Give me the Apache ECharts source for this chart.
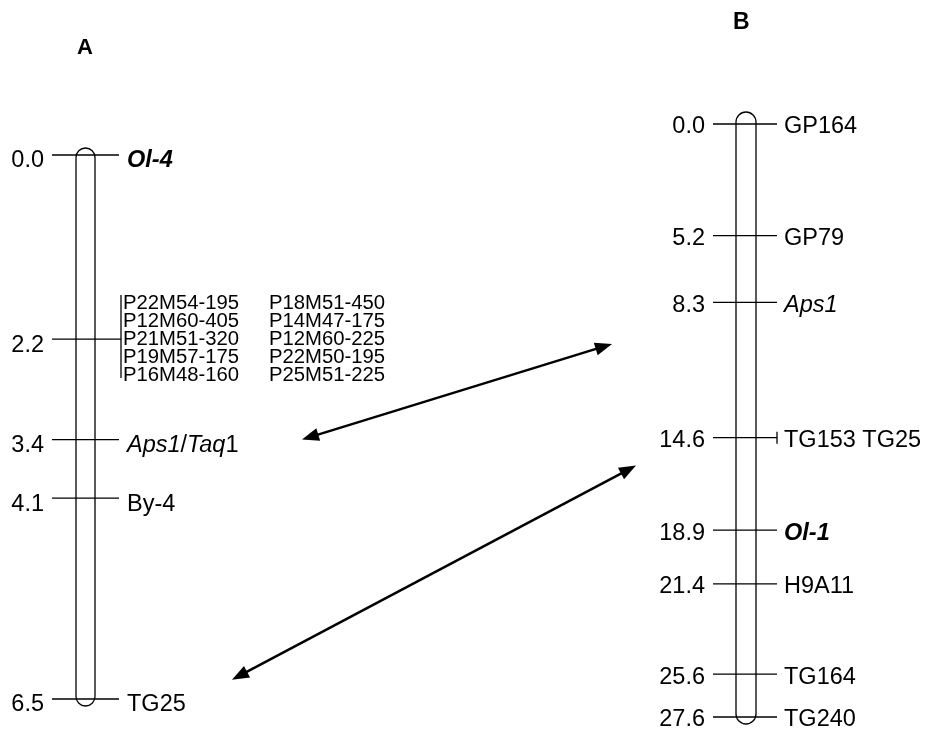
<!DOCTYPE html>
<html><head><meta charset="utf-8">
<script src="https://cdn.jsdelivr.net/npm/echarts@6/dist/echarts.min.js"></script>
<style>html,body{margin:0;padding:0;background:#fff}#c{width:925px;height:731px}</style>
</head><body><div id="c"></div>
<script>
// ---- data ----
const chrA_title = 'A';
const chrA_pos = [0.0, 2.2, 3.4, 4.1, 6.5];
const chrA_markers = ['Ol-4', '', 'Aps1/Taq1', 'By-4', 'TG25'];
const chrA_cluster_pos = 2.2;
const chrA_cluster_col1 = ['P22M54-195', 'P12M60-405', 'P21M51-320', 'P19M57-175', 'P16M48-160'];
const chrA_cluster_col2 = ['P18M51-450', 'P14M47-175', 'P12M60-225', 'P22M50-195', 'P25M51-225'];
const chrB_title = 'B';
const chrB_pos = [0.0, 5.2, 8.3, 14.6, 18.9, 21.4, 25.6, 27.6];
const chrB_markers = ['GP164', 'GP79', 'Aps1', 'TG153 TG25', 'Ol-1', 'H9A11', 'TG164', 'TG240'];
const chrB_grouped = [false, false, false, true, false, false, false, false];
// arrows: cM on chromosome A  <->  cM on chromosome B
const arrow_fromA = [3.4, 6.27];
const arrow_toB = [10.24, 15.9];

// ---- style / layout ----
const FONT = '"Liberation Sans", Arial, Helvetica, sans-serif';
const FS = 23.5;
const rich = {
  n: {fontSize: FS, fontFamily: FONT, color: '#000'},
  i: {fontSize: FS, fontFamily: FONT, fontStyle: 'italic', color: '#000'},
  bi: {fontSize: FS, fontFamily: FONT, fontStyle: 'italic', fontWeight: 'bold', color: '#000'}
};
function fmt(name) {
  if (name === 'Aps1/Taq1') return '{i|Aps1}{n|/}{i|Taq}{n|1}';
  if (name === 'Ol-4' || name === 'Ol-1') return '{bi|' + name + '}';
  if (name === 'Aps1') return '{i|' + name + '}';
  return '{n|' + name + '}';
}
const cfgA = {cx: 85.5, w: 19, extTop: 7, extBot: 7, tickL: 52, tickR: 119, numX: 44, nameX: 127, dy: 6, bracketX: 121};
const cfgB = {cx: 746, w: 20, extTop: 12, extBot: 7, tickL: 713, tickR: 777, numX: 705, nameX: 784, dy: 3};

function capsuleSeries(idx, min, max, cfg) {
  return {
    type: 'custom', xAxisIndex: idx, yAxisIndex: idx, silent: true, z: 1,
    data: [[cfg.cx, min, max]],
    renderItem(params, api) {
      const t = api.coord([api.value(0), api.value(1)]);
      const b = api.coord([api.value(0), api.value(2)]);
      const top = t[1] - cfg.extTop, bot = b[1] + cfg.extBot;
      return {type: 'rect', shape: {x: t[0] - cfg.w / 2, y: top, width: cfg.w, height: bot - top, r: cfg.w / 2},
        style: {fill: '#fff', stroke: '#000', lineWidth: 1.3}};
    }
  };
}
function markerSeries(idx, pos, names, cfg, grouped) {
  return {
    type: 'custom', xAxisIndex: idx, yAxisIndex: idx, silent: true, z: 2,
    data: pos.map((p, i) => [cfg.cx, p, i]),
    renderItem(params, api) {
      const i = api.value(2);
      const y = api.coord([api.value(0), api.value(1)])[1];
      const ch = [];
      const isCluster = (idx === 0 && pos[i] === chrA_cluster_pos && !names[i]);
      const right = isCluster ? cfg.bracketX : cfg.tickR;
      ch.push({type: 'line', shape: {x1: cfg.tickL, y1: y, x2: right, y2: y}, style: {stroke: '#000', lineWidth: 1.3}});
      ch.push({type: 'text', style: {text: pos[i].toFixed(1), x: cfg.numX, y: y + cfg.dy, align: 'right', verticalAlign: 'middle',
        font: FS + 'px ' + FONT, fill: '#000'}});
      if (grouped && grouped[i]) {
        ch.push({type: 'line', shape: {x1: cfg.tickR, y1: y - 6, x2: cfg.tickR, y2: y + 6}, style: {stroke: '#000', lineWidth: 1.3}});
      }
      if (isCluster) {
        ch.push({type: 'line', shape: {x1: cfg.bracketX, y1: y - 44, x2: cfg.bracketX, y2: y + 39}, style: {stroke: '#000', lineWidth: 1.3}});
        chrA_cluster_col1.forEach((s, k) => {
          ch.push({type: 'text', style: {text: s, x: 123, y: y + (k - 2) * 18, align: 'left', verticalAlign: 'middle', font: '20.3px ' + FONT, fill: '#000'}});
        });
        chrA_cluster_col2.forEach((s, k) => {
          ch.push({type: 'text', style: {text: s, x: 269, y: y + (k - 2) * 18, align: 'left', verticalAlign: 'middle', font: '20.3px ' + FONT, fill: '#000'}});
        });
      } else if (names[i]) {
        ch.push({type: 'text', style: {text: fmt(names[i]), rich: rich, x: cfg.nameX, y: y + cfg.dy, align: 'left', verticalAlign: 'middle'}});
      }
      return {type: 'group', children: ch};
    }
  };
}

const chart = echarts.init(document.getElementById('c'), null, {renderer: 'canvas'});
const option = {
  backgroundColor: '#fff',
  animation: false,
  grid: [
    {left: 0, top: 155, width: 925, height: 544},
    {left: 0, top: 124, width: 925, height: 593}
  ],
  xAxis: [
    {type: 'value', gridIndex: 0, min: 0, max: 925, show: false},
    {type: 'value', gridIndex: 1, min: 0, max: 925, show: false}
  ],
  yAxis: [
    {type: 'value', gridIndex: 0, min: 0, max: 6.5, inverse: true, show: false},
    {type: 'value', gridIndex: 1, min: 0, max: 27.6, inverse: true, show: false}
  ],
  series: [
    capsuleSeries(0, chrA_pos[0], chrA_pos[chrA_pos.length - 1], cfgA),
    markerSeries(0, chrA_pos, chrA_markers, cfgA, null),
    capsuleSeries(1, chrB_pos[0], chrB_pos[chrB_pos.length - 1], cfgB),
    markerSeries(1, chrB_pos, chrB_markers, cfgB, chrB_grouped)
  ]
};
chart.setOption(option);

// arrows and titles, placed via the library's coordinate conversion
const arrowLeftX = [302, 232];
const arrowRightX = [612, 636];
const gfx = [];
function arrowHead(tip, from, len, hw) {
  const dx = tip[0] - from[0], dy = tip[1] - from[1];
  const L = Math.sqrt(dx * dx + dy * dy), ux = dx / L, uy = dy / L;
  const bx = tip[0] - ux * len, by = tip[1] - uy * len;
  return [[tip[0], tip[1]], [bx - uy * hw, by + ux * hw], [bx + uy * hw, by - ux * hw]];
}
arrow_fromA.forEach((a, k) => {
  const p1 = chart.convertToPixel({gridIndex: 0}, [arrowLeftX[k], a]);
  const p2 = chart.convertToPixel({gridIndex: 1}, [arrowRightX[k], arrow_toB[k]]);
  const dx = p2[0] - p1[0], dy = p2[1] - p1[1];
  const L = Math.sqrt(dx * dx + dy * dy), ux = dx / L, uy = dy / L;
  const len = 17;
  gfx.push({type: 'line', silent: true, shape: {x1: p1[0] + ux * (len - 2), y1: p1[1] + uy * (len - 2), x2: p2[0] - ux * (len - 2), y2: p2[1] - uy * (len - 2)},
    style: {stroke: '#000', lineWidth: 2.5}});
  gfx.push({type: 'polygon', silent: true, shape: {points: arrowHead(p1, p2, len, 6.5)}, style: {fill: '#000'}});
  gfx.push({type: 'polygon', silent: true, shape: {points: arrowHead(p2, p1, len, 6.5)}, style: {fill: '#000'}});
});
gfx.push({type: 'text', left: 77, top: 37, style: {text: chrA_title, font: 'bold 22px ' + FONT, fill: '#000'}});
gfx.push({type: 'text', left: 733, top: 11, style: {text: chrB_title, font: 'bold 23px ' + FONT, fill: '#000'}});
chart.setOption({graphic: gfx});
</script>
</body></html>
